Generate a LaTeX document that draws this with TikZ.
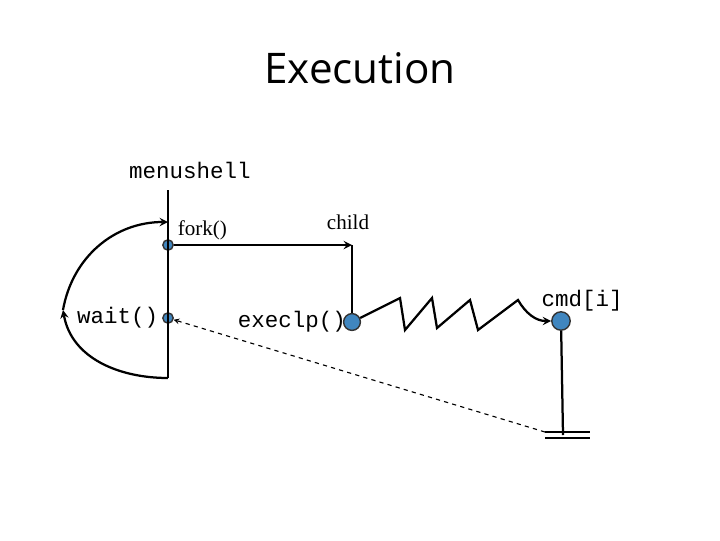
\documentclass[tikz,border=0pt]{standalone}
\usepackage{fontspec}
\newfontfamily\titlefont{Open Sans}
\setmonofont{Liberation Mono}
\setmainfont{Liberation Serif}
\usetikzlibrary{positioning}

\begin{document}
\begin{tikzpicture}[x=0.025cm, y=-0.025cm, line width=1.6pt,
    dot/.style={draw=black!80, fill=blue!45!cyan!50!gray, circle, inner sep=0pt, line width=1pt},
    lab/.style={font=\ttfamily\fontsize{16}{18}\selectfont, inner sep=1pt}]
        \useasboundingbox (0,0) rectangle (720,540);

        \node[font=\titlefont\fontsize{30}{32}\selectfont](title) at (360,68){Execution};
        \node[lab](menushell) at (190,170){menushell};

        \coordinate (top) at (168,190);
        \coordinate (bot) at (168,378);
        \coordinate (back) at (168,222);
        \coordinate (turn) at (63,310);
        \node[dot, minimum size=0.26cm](fork) at (168,245){};
        \node[dot, minimum size=0.26cm](wait) at (168,318){};
        \node[dot, minimum size=0.42cm](exec) at (352,322){};
        \node[dot, minimum size=0.46cm](cmd) at (561,321){};
        \coordinate (child) at (352,245);
        \coordinate (ground) at (563,435);

        \node[font=\fontsize{15}{17}\selectfont, anchor=west](forklab) at (172,230){fork()};
        \node[font=\fontsize{15}{17}\selectfont](childlab) at (348,222){child};
        \node[lab, left=1pt of wait](waitlab){wait()};
        \node[lab, left=-4pt of exec](execlab){execlp()};
        \node[lab](cmdlab) at (582,301){cmd[i]};

        \draw (top) -- (bot);
        \draw [-stealth](bot) to[out=180, in=-80] (turn);
        \draw [-stealth](turn) to[out=80, in=180] (back);
        \draw [-stealth](fork) -- (child);
        \draw (child) -- (exec);
        \draw [-stealth](exec) -- (400,298) -- (405,330) -- (432,298) -- (437,328)
            -- (470,300) -- (478,330) -- (518,300) to[out=-60, in=180] (cmd);
        \draw (cmd) -- (ground);
        \draw (545,432) -- (590,432) (545,438) -- (590,438);
        \draw [-stealth, dashed, line width=0.8pt](545,432) -- (wait);
    \end{tikzpicture}
\end{document}
